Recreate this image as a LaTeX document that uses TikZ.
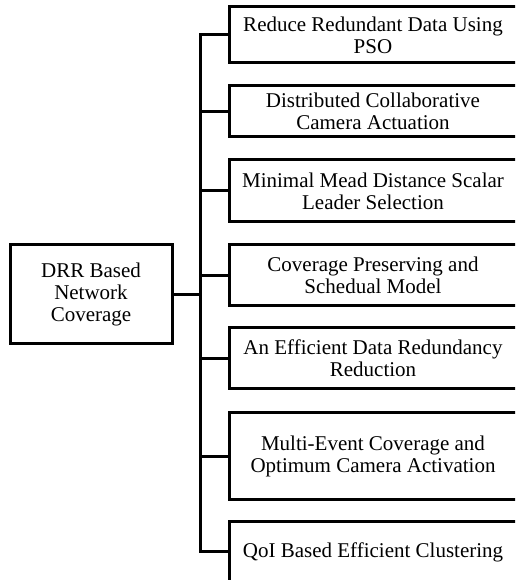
\documentclass[tikz,border=0pt]{standalone}
\usepackage{fontspec}
\setmainfont{Liberation Serif}
\begin{document}
\begin{tikzpicture}[x=1pt, y=1pt,
		box/.style={draw, line width=3pt, align=center, inner sep=0pt,
			font=\fontsize{21}{22}\selectfont},
		branch/.style={box, minimum width=288pt, anchor=center},
		link/.style={line width=3pt}]
			\useasboundingbox (0,0) rectangle (515,580);
			\clip (0,0) rectangle (515,580);
			
			\node[box, minimum width=162pt, minimum height=99pt] (root) at (91,285.5) {DRR Based\\Network\\Coverage};
			\coordinate (trunk) at (200,285.5);
			
			\node[branch, minimum height=56pt] (b1) at (373,545) {Reduce Redundant Data Using\\PSO};
			\node[branch, minimum height=51pt] (b2) at (373,468.5) {Distributed Collaborative\\Camera Actuation};
			\node[branch, minimum height=62pt] (b3) at (373,389) {Minimal Mead Distance Scalar\\Leader Selection};
			\node[branch, minimum height=61pt] (b4) at (373,304.5) {Coverage Preserving and\\Schedual Model};
			\node[branch, minimum height=61pt] (b5) at (373,221.5) {An Efficient Data Redundancy\\Reduction};
			\node[branch, minimum height=87pt] (b6) at (373,123.5) {Multi-Event Coverage and\\Optimum Camera Activation};
			\node[branch, minimum height=60pt] (b7) at (373,28) {QoI Based Efficient Clustering};
			
			\draw[link] (root.east) -- (trunk);
			\foreach \b in {b1,b2,b3,b4,b5,b6,b7}
				\draw[link] (trunk) |- (\b.west);
		\end{tikzpicture}
\end{document}
